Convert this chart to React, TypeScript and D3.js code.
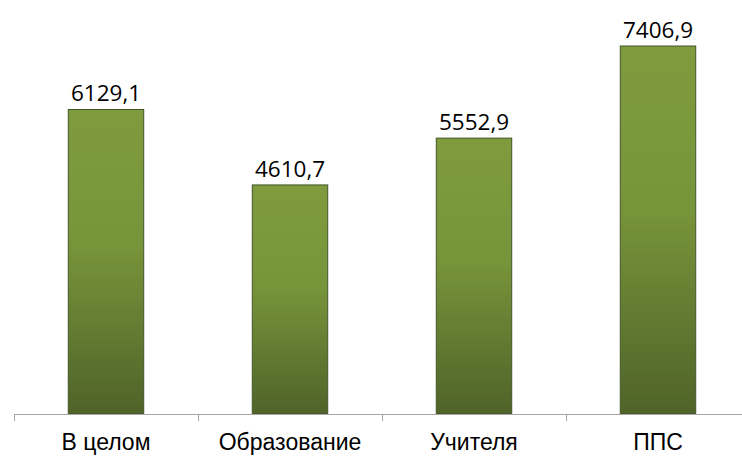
import React from "react";
import * as d3 from "d3";

const categories = ["В целом", "Образование", "Учителя", "ППС"];
const values = [6129.1, 4610.7, 5552.9, 7406.9];
const valueLabels = ["6129,1", "4610,7", "5552,9", "7406,9"];

export default function App() {
  const W = 742, H = 456;
  const x0 = 14, x1 = 750, axisY = 414;
  const x = d3.scaleBand<string>().domain(categories).range([x0, x1]).paddingInner(0.59).paddingOuter(0.295);
  const y = d3.scaleLinear().domain([0, 7406.9]).range([axisY, 46]);
  const ticks = d3.range(categories.length + 1).map((i) => x0 + i * ((x1 - x0) / categories.length));
  return (
    <svg width={W} height={H} style={{ position: "absolute", left: 0, top: 0, background: "#fff" }}>
      <defs>
        <linearGradient id="g" x1="0" y1="0" x2="0" y2="1">
          <stop offset="0" stopColor="#7e9c3e" />
          <stop offset="0.45" stopColor="#76943a" />
          <stop offset="1" stopColor="#4f6329" />
        </linearGradient>
      </defs>
      {categories.map((c, i) => {
        const bx = x(c)!;
        const by = y(values[i]);
        return (
          <g key={c}>
            <rect x={bx} y={by} width={x.bandwidth()} height={axisY - by} fill="url(#g)" stroke="#45552a" strokeWidth={1} />
            <text x={bx + x.bandwidth() / 2} y={by - 8} textAnchor="middle" fontFamily="Open Sans, sans-serif" fontSize={22.5} fill="#000">
              {valueLabels[i]}
            </text>
            <text x={bx + x.bandwidth() / 2} y={450} textAnchor="middle" fontFamily="Liberation Sans, Arial, sans-serif" fontSize={23} fill="#000">
              {c}
            </text>
          </g>
        );
      })}
      <line x1={x0} x2={x1} y1={axisY + 0.5} y2={axisY + 0.5} stroke="#a6a6a6" strokeWidth={1} />
      {ticks.map((t, i) => (
        <line key={i} x1={Math.round(t) + 0.5} x2={Math.round(t) + 0.5} y1={axisY} y2={axisY + 7} stroke="#a6a6a6" strokeWidth={1} />
      ))}
    </svg>
  );
}
